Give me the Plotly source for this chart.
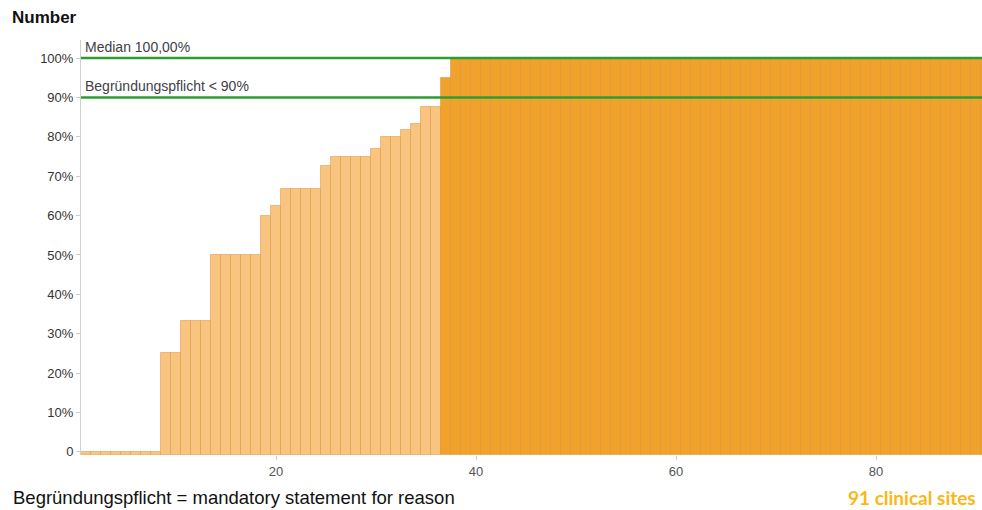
import numpy as np
import plotly.graph_objects as go

# share of cases with a stated reason, per clinical site (sorted)
site_rank = list(range(1, 92))
share_pct = ([0] * 8 + [25, 25] + [33.3] * 3 + [50] * 5 + [60, 62.5] + [66.7] * 4 +
             [72.7] + [75] * 4 + [76.9, 80, 80, 81.8, 83.3, 87.5, 87.5, 95] + [100] * 54)
median_pct = 100
threshold_pct = 90
x_ticks = [20, 40, 60, 80]
y_ticks = [0, 10, 20, 30, 40, 50, 60, 70, 80, 90, 100]
y_tick_text = ["0"] + [f"{v}%" for v in y_ticks[1:]]

LIGHT = "#F8C47F"
DARK = "#F0A22D"
GREEN = "#2E9B33"
Y_FLOOR = -0.8  # bars start a little below 0 so zero-bars stay visible

vals = np.array(share_pct)
colors = [DARK if v >= threshold_pct else LIGHT for v in vals]

fig = go.Figure()
fig.add_trace(go.Bar(
    x=site_rank, y=vals - Y_FLOOR, base=Y_FLOOR,
    marker=dict(color=colors, line=dict(width=1, color="rgba(214,140,40,0.45)")),
    hoverinfo="skip",
))

# reference lines
for level in (median_pct, threshold_pct):
    fig.add_hline(y=level, line=dict(color=GREEN, width=2.5))

label_font = dict(family="Liberation Sans, Arial", size=14, color="#404048")
fig.add_annotation(x=0, xref="paper", y=median_pct, yref="y", text=f"Median {median_pct:.2f}%".replace(".", ","),
                   showarrow=False, xanchor="left", yanchor="bottom", xshift=2, yshift=1, font=label_font)
fig.add_annotation(x=0, xref="paper", y=threshold_pct, yref="y", text=f"Begründungspflicht < {threshold_pct}%",
                   showarrow=False, xanchor="left", yanchor="bottom", xshift=2, yshift=1, font=label_font)

fig.add_annotation(x=0, xref="paper", xshift=-71, y=1, yref="paper", yshift=23,
                   text="<b>Number</b>", showarrow=False, xanchor="left", yanchor="middle",
                   font=dict(family="Liberation Sans, Arial", size=17, color="#111"))
fig.add_annotation(x=0, xref="paper", xshift=-70, y=0, yref="paper", yshift=-42,
                   text="Begründungspflicht = mandatory statement for reason", showarrow=False,
                   xanchor="left", yanchor="middle",
                   font=dict(family="Liberation Sans, Arial", size=18.5, color="#111"))
fig.add_annotation(x=1, xref="paper", xshift=-4, y=0, yref="paper", yshift=-42,
                   text="<b>91 clinical sites</b>", showarrow=False, xanchor="right", yanchor="middle",
                   font=dict(family="Lato, Open Sans", size=19, color="#FBB714"))

fig.update_layout(
    width=982, height=510,
    margin=dict(l=81, r=0, t=40, b=55),
    plot_bgcolor="white", paper_bgcolor="white",
    bargap=0, showlegend=False,
    xaxis=dict(range=[0.5, 90.6], tickvals=x_ticks, showgrid=False, zeroline=False,
               ticks="outside", ticklen=4, tickcolor="#ccc", showline=False,
               tickfont=dict(family="Liberation Sans, Arial", size=13, color="#555")),
    yaxis=dict(range=[Y_FLOOR, 104.6], tickvals=y_ticks, ticktext=y_tick_text, showgrid=False,
               zeroline=False, showline=True, linecolor="#d0d0d0", linewidth=1,
               ticks="outside", ticklen=4, tickcolor="#ccc",
               tickfont=dict(family="Liberation Sans, Arial", size=13, color="#333")),
)

# drop the default page margin so the chart fills the window exactly
fig.write_html("out.html", config={"displayModeBar": False},
               post_script="document.body.style.margin='0';document.body.style.overflow='hidden';")
